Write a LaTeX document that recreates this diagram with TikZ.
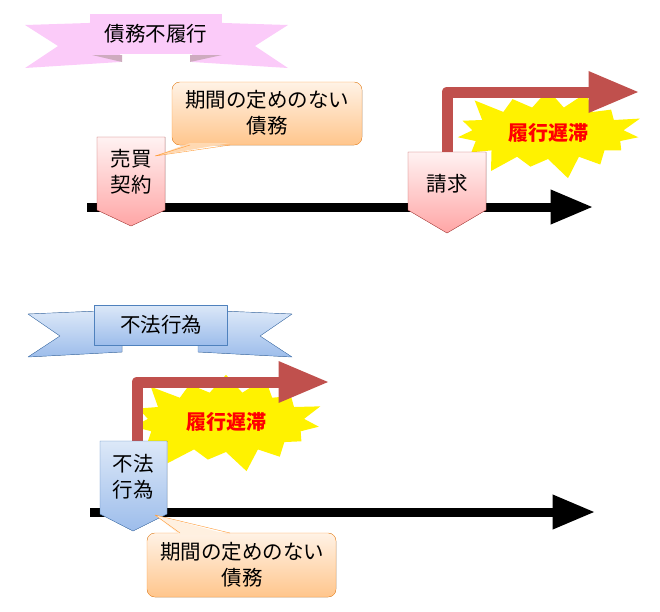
\documentclass[tikz,border=0pt]{standalone}
\usepackage{fontspec}
\setmainfont{Noto Sans CJK JP}
\usetikzlibrary{calc}
\usetikzlibrary{arrows}
\usetikzlibrary{shapes.symbols}

\definecolor{delayred}{HTML}{C0504D}
\definecolor{skytop}{HTML}{DCE8F8}
\definecolor{skybot}{HTML}{9DBDEB}
\definecolor{skyline}{HTML}{4F81BD}
\definecolor{ribbonpink}{HTML}{FBCBF9}

\begin{document}
\begin{tikzpicture}[x=1pt, y=-1pt, line join = round]
\tikzstyle{pinkbox}=[top color=red!5, bottom color=red!35, draw=delayred]
\tikzstyle{bluebox}=[top color=skytop, bottom color=skybot, draw=skyline]
\tikzstyle{memo}=[top color=orange!10, bottom color=orange!45, draw=orange!80, rounded corners=8pt]
\tikzstyle{label}=[font=\fontsize{20.5}{26}\selectfont, align=center]
\tikzstyle{burst}=[starburst, starburst points=15, starburst point height=24pt, fill=yellow, draw=none, minimum width=200pt, minimum height=100pt, font=\fontsize{20}{26}\selectfont\bfseries, text=red]
\tikzstyle{timeline}=[line width=9pt, -triangle 45, black]
\tikzstyle{delay}=[line width=11pt, -triangle 45, delayred]
\useasboundingbox (0,0) rectangle (660,611);

% top ribbon
\fill[ribbonpink] (25,25) -- (120,22) -- (120,62) -- (25,68) -- (58,46) -- cycle;
\fill[ribbonpink] (288,25) -- (192,22) -- (192,62) -- (288,68) -- (255,46) -- cycle;
\fill[magenta!30!gray!60] (92,55) -- (122,55) -- (122,62) -- cycle;
\fill[magenta!30!gray!60] (222,55) -- (190,55) -- (190,62) -- cycle;
\node[fill=ribbonpink, minimum width=132pt, minimum height=40pt, label] (title1) at (156,34) {債務不履行};

% bottom ribbon
\filldraw[bluebox] (28,314) -- (122,310) -- (122,352) -- (28,357) -- (60,336) -- cycle;
\filldraw[bluebox] (292,314) -- (198,310) -- (198,352) -- (292,357) -- (260,336) -- cycle;
\node[bluebox, minimum width=133pt, minimum height=40pt, label] (title2) at (161,325) {不法行為};

% upper timeline
\coordinate (t1s) at (87,207);
\coordinate (t1e) at (592,207);
\draw[timeline] (t1s) -- (t1e);
\node[burst] (delay1) at (548,133) {履行遅滞};
\coordinate (r1a) at (447,155);
\coordinate (r1b) at (447,92);
\coordinate (r1c) at (638,92);
\draw[delay] (r1a) -- (r1b) -- (r1c);

\filldraw[pinkbox] (97,137) -- (165,137) -- (165,210) -- (131,226) -- (97,210) -- cycle;
\node[label] (sale) at (131,172) {売買\\契約};
\filldraw[pinkbox] (408,152) -- (486,152) -- (486,210) -- (447,233) -- (408,210) -- cycle;
\node[label] (claim) at (447,184) {請求};

\filldraw[memo] (172,82) rectangle (362,145);
\fill[orange!30] (190,143) -- (155,156) -- (230,143) -- cycle;
\draw[orange!80] (190,145) -- (155,156) -- (230,145);
\node[label] (memo1) at (267,113) {期間の定めのない\\債務};

% lower timeline
\coordinate (t2s) at (90,512);
\coordinate (t2e) at (594,512);
\draw[timeline] (t2s) -- (t2e);
\node[burst, minimum width=205pt, minimum height=108pt] (delay2) at (226,422) {履行遅滞};
\coordinate (r2a) at (137,442);
\coordinate (r2b) at (137,382);
\coordinate (r2c) at (328,382);
\draw[delay] (r2a) -- (r2b) -- (r2c);

\filldraw[bluebox] (100,441) -- (167,441) -- (167,514) -- (133,531) -- (100,514) -- cycle;
\node[label] (tort) at (133,477) {不法\\行為};

\filldraw[memo] (147,533) rectangle (336,597);
\fill[orange!12] (180,535) -- (155,515) -- (230,535) -- cycle;
\draw[orange!80] (180,533) -- (155,515) -- (230,533);
\node[label] (memo2) at (242,565) {期間の定めのない\\債務};
\end{tikzpicture}
\end{document}
